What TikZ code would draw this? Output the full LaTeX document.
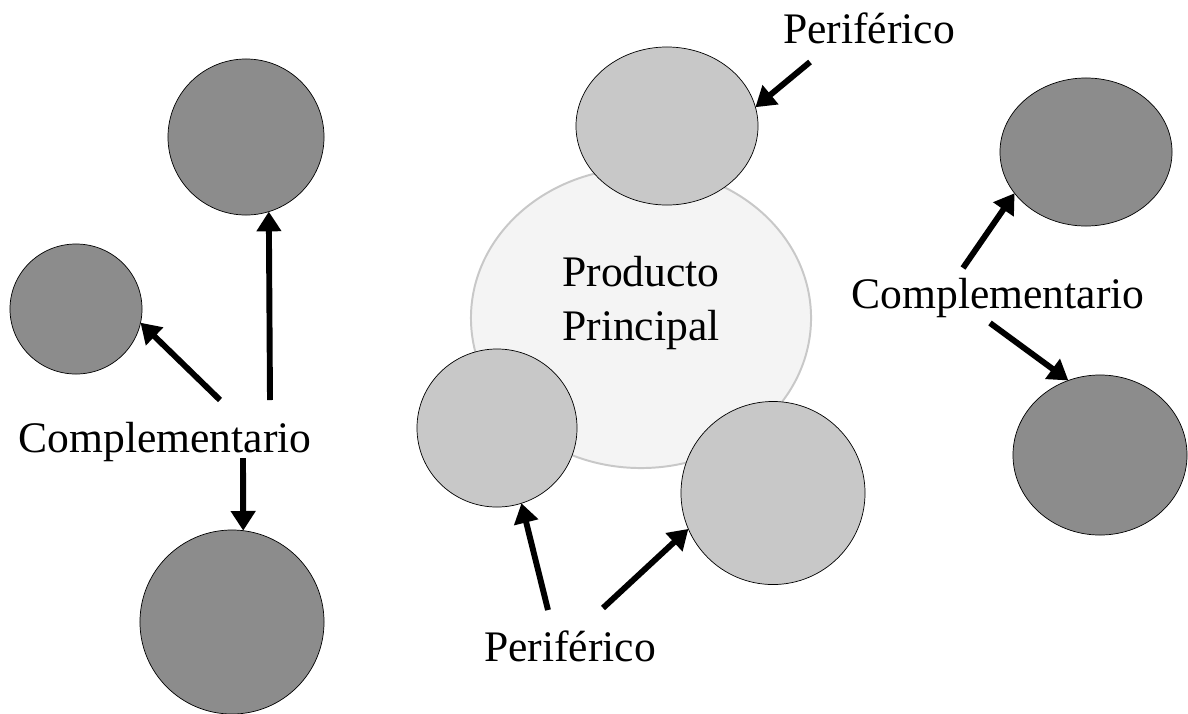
\documentclass[tikz,border=0pt]{standalone}
\usepackage{fontspec}
\setmainfont{Liberation Serif}
\usetikzlibrary{arrows.meta, shapes.geometric}
\definecolor{compgray}{RGB}{140, 140, 140}
\definecolor{perigray}{RGB}{200, 200, 200}
\definecolor{coregray}{RGB}{244, 244, 244}

\begin{document}
\begin{tikzpicture}[x=0.025cm, y=-0.025cm,
  comp/.style={ellipse, draw=black, line width=0.5pt, fill=compgray, inner sep=0pt, outer sep=0pt},
  peri/.style={ellipse, draw=black, line width=0.5pt, fill=perigray, inner sep=0pt, outer sep=0pt},
  core/.style={ellipse, draw=perigray, line width=1.4pt, fill=coregray, inner sep=0pt, outer sep=0pt},
  lbl/.style={font=\fontsize{31}{39}\selectfont, inner sep=0pt, align=center},
  pt/.style={line width=4.2pt, -{Triangle[length=14pt, width=17pt]}}
]
  \useasboundingbox (0,0) rectangle (1188,713);

  % left group
  \node[comp, minimum width=3.9cm, minimum height=3.9cm] (cTop) at (246,137) {};
  \node[comp, minimum width=3.3cm, minimum height=3.25cm] (cLeft) at (76,309) {};
  \node[comp, minimum width=4.6cm, minimum height=4.6cm] (cBot) at (232,622) {};
  \node[lbl, anchor=base] (compL) at (165,452) {Complementario};
  \coordinate (tUp) at (270,400);
  \coordinate (tLeft) at (220,400);
  \coordinate (tDown) at (243,458);
  \draw[pt] (tUp) -- (cTop.-73);
  \draw[pt] (tLeft) -- (cLeft.-12);
  \draw[pt] (tDown) -- (cBot.83);

  % center group
  \node[core, minimum width=8.5cm, minimum height=7.5cm] (main) at (641,318) {};
  \node[lbl] (mainTxt) at (641,303) {Producto\\Principal};
  \node[peri, minimum width=4.55cm, minimum height=3.95cm] (pTop) at (667,126) {};
  \node[peri, minimum width=4.0cm, minimum height=3.95cm] (pLeft) at (497,428) {};
  \node[peri, minimum width=4.6cm, minimum height=4.575cm] (pRight) at (773,493) {};
  \node[lbl, anchor=base] (periTop) at (869,43) {Periférico};
  \node[lbl, anchor=base] (periBot) at (570,661) {Periférico};
  \coordinate (tTop) at (810,62);
  \coordinate (tBotL) at (548,610);
  \coordinate (tBotR) at (603,608);
  \draw[pt] (tTop) -- (pTop.12);
  \draw[pt] (tBotL) -- (pLeft.-72);
  \draw[pt] (tBotR) -- (pRight.203);

  % right group
  \node[comp, minimum width=4.3cm, minimum height=3.7cm] (rTop) at (1086,152) {};
  \node[comp, minimum width=4.35cm, minimum height=4.0cm] (rBot) at (1100,455) {};
  \node[lbl, anchor=base] (compR) at (998,308) {Complementario};
  \coordinate (tRUp) at (963,268);
  \coordinate (tRDown) at (990,323);
  \draw[pt] (tRUp) -- (rTop.210);
  \draw[pt] (tRDown) -- (rBot.113);
\end{tikzpicture}
\end{document}
